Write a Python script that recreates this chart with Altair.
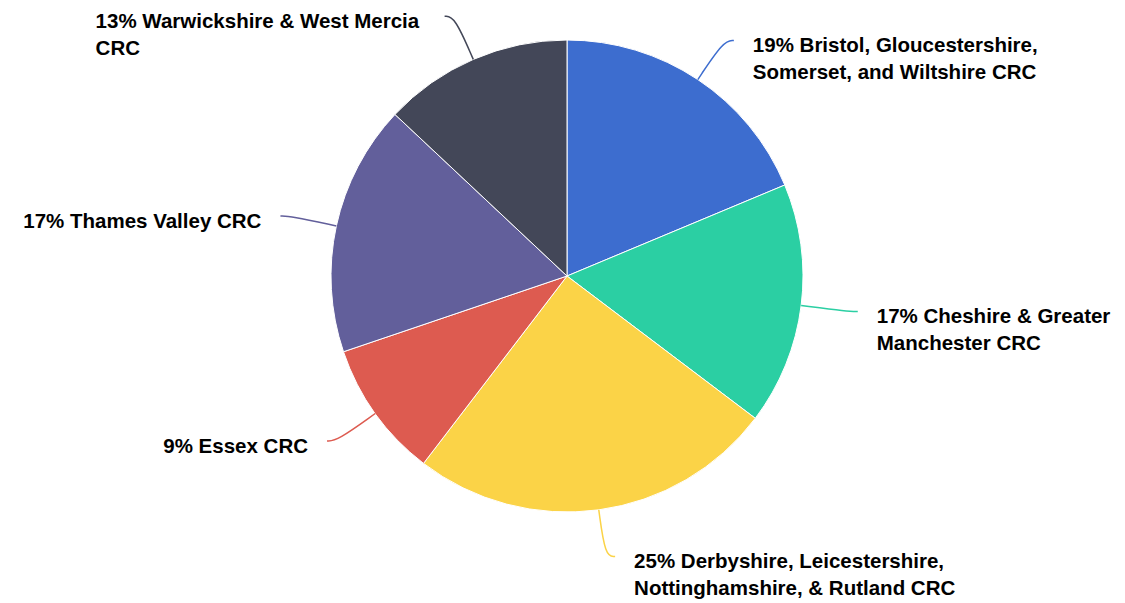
import math
import altair as alt
import pandas as pd

# ---- data ----
regions = [
    "Bristol, Gloucestershire, Somerset, and Wiltshire CRC",
    "Cheshire & Greater Manchester CRC",
    "Derbyshire, Leicestershire, Nottinghamshire, & Rutland CRC",
    "Essex CRC",
    "Thames Valley CRC",
    "Warwickshire & West Mercia CRC",
]
# slice sizes (percent) as measured from the slice angles
shares = [18.7, 16.6, 25.1, 9.4, 17.2, 13.0]
label_lines = [
    "Bristol, Gloucestershire,\nSomerset, and Wiltshire CRC",
    "Cheshire & Greater\nManchester CRC",
    "Derbyshire, Leicestershire,\nNottinghamshire, & Rutland CRC",
    "Essex CRC",
    "Thames Valley CRC",
    "Warwickshire & West Mercia\nCRC",
]
colors = ["#3d6dcf", "#2bcfa3", "#fbd347", "#dd5b50", "#625f9b", "#434758"]

# ---- layout ----
W, H = 1125, 603
CX, CY, R = 567, 276, 236
ELBOW = 47      # distance of connector elbow beyond the pie edge
TAIL = 10       # horizontal run of the connector
GAP = 19        # gap between connector end and label
BASE_SHIFT = 12  # first-line baseline below connector end
LEFT_BLOCK_W = {5: 330}  # left-side multi-line label block width (left aligned)
FONT_SIZE = 20.5

total = sum(shares)
pie = pd.DataFrame({"region": regions, "share": shares, "idx": range(len(regions))})

line_rows, text_rows = [], []
cum = 0
for i, (reg, s) in enumerate(zip(regions, shares)):
    mid = (cum + s / 2) / total * 2 * math.pi
    cum += s
    sx, cy_ = math.sin(mid), -math.cos(mid)
    p0 = (CX + R * sx, CY + R * cy_)
    c = (CX + (R + ELBOW) * sx, CY + (R + ELBOW) * cy_)
    side = 1 if sx > 0 else -1
    p2 = (c[0] + side * TAIL, c[1])
    for k, p in enumerate([p0, c, p2]):
        line_rows.append({"region": reg, "seq": k, "px": p[0], "py": p[1]})
    pct = round(s / total * 100)
    label = f"{pct}% {label_lines[i]}"
    if side > 0:
        tx, anchor = p2[0] + GAP, "left"
    elif i in LEFT_BLOCK_W:
        tx, anchor = p2[0] - GAP - LEFT_BLOCK_W[i], "left"
    else:
        tx, anchor = p2[0] - GAP, "right"
    text_rows.append({"region": reg, "label": label, "tx": tx,
                      "ty": p2[1] + BASE_SHIFT, "anchor": anchor})

lines = pd.DataFrame(line_rows)
texts = pd.DataFrame(text_rows)

xs = alt.Scale(domain=[0, W], range=[0, W], nice=False, zero=False)
ys = alt.Scale(domain=[0, H], range=[0, H], nice=False, zero=False)
cs = alt.Scale(domain=regions, range=colors)

arcs = alt.Chart(pie).mark_arc(outerRadius=R, stroke="white", strokeWidth=1).encode(
    theta=alt.Theta("share:Q", stack=True),
    order=alt.Order("idx:Q"),
    color=alt.Color("region:N", scale=cs, legend=None),
    x=alt.value(CX),
    y=alt.value(CY),
)

conn = alt.Chart(lines).mark_line(interpolate="basis", strokeWidth=1.5).encode(
    x=alt.X("px:Q", scale=xs, axis=None),
    y=alt.Y("py:Q", scale=ys, axis=None),
    color=alt.Color("region:N", scale=cs, legend=None),
    detail="region:N",
    order="seq:Q",
)

def text_layer(anchor):
    return alt.Chart(texts).transform_filter(
        alt.datum.anchor == anchor
    ).mark_text(
        align=anchor, baseline="alphabetic", font="Liberation Sans",
        fontSize=FONT_SIZE, fontWeight="bold", color="#000000",
        lineBreak="\n", lineHeight=27,
    ).encode(
        x=alt.X("tx:Q", scale=xs, axis=None),
        y=alt.Y("ty:Q", scale=ys, axis=None),
        text="label:N",
    )

chart = alt.layer(arcs, conn, text_layer("left"), text_layer("right")).properties(
    width=W, height=H, padding=0,
    autosize=alt.AutoSizeParams(type="none"),
    background="white",
).configure_view(stroke=None)

chart.save("out.html", embed_options={"renderer": "svg", "actions": False})
